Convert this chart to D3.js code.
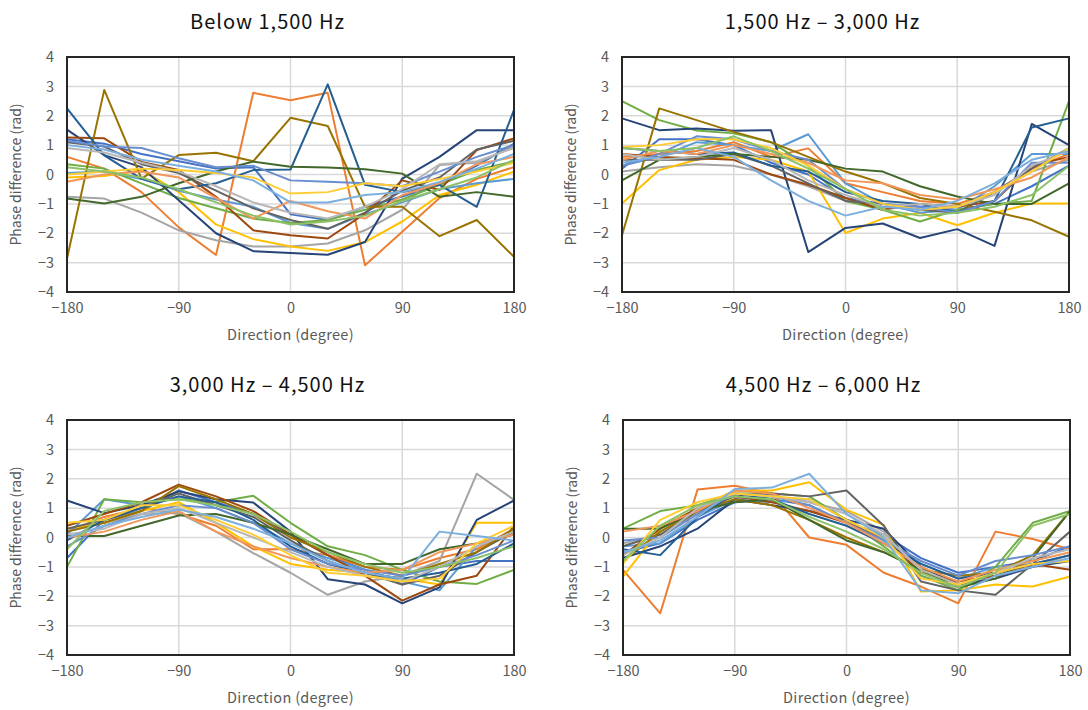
<!DOCTYPE html>
<html>
<head>
<meta charset="utf-8">
<script src="https://cdn.jsdelivr.net/npm/d3@7"></script>
<style>
  body { margin: 0; background: #fff; }
  text { font-family: "Noto Sans CJK JP", "Noto Sans", sans-serif; }
</style>
</head>
<body>
<script>
// directions on the x axis (degree)
var directions = [-180, -150, -120, -90, -60, -30, 0, 30, 60, 90, 120, 150, 180];
var xTicks = [-180, -90, 0, 90, 180];
var yTicks = [-4, -3, -2, -1, 0, 1, 2, 3, 4];
var titles = ["Below 1,500  Hz", "1,500  Hz \u2013 3,000  Hz", "3,000  Hz \u2013 4,500  Hz", "4,500  Hz \u2013 6,000  Hz"];

// excel default series colours
var colors = ["#4472C4", "#ED7D31", "#A5A5A5", "#FFC000", "#5B9BD5", "#70AD47",
              "#264478", "#9E480E", "#636363", "#997300", "#255E91", "#43682B",
              "#698ED0", "#F1975A", "#B7B7B7", "#FFCD33", "#7CAFDD", "#8CC168"];

// phase difference (rad) per series, below 1,500 Hz
var below1500 = [
  [1.2, 1.05, 0.7, 0.45, 0.2, 0.25, -1.35, -1.55, -1.1, -0.75, -0.35, 0.3, 1.05],
  [0.6, 0.2, -0.6, -1.8, -2.74, 2.78, 2.53, 2.78, -3.09, -1.95, -0.8, -0.15, 0.25],
  [-0.76, -0.82, -1.3, -1.9, -2.24, -2.45, -2.45, -2.35, -1.9, -1.2, 0.32, 0.4, 0.95],
  [-0.1, -0.05, 0.15, -0.6, -1.7, -2.2, -2.45, -2.6, -2.3, -1.6, -0.7, -0.35, 0.1],
  [0.05, 0.1, -0.15, -0.55, -0.85, -1.1, -1.65, -1.85, -1.35, -0.95, -0.5, -0.3, -0.15],
  [0.35, 0.2, -0.3, -0.8, -1.15, -1.5, -1.65, -1.55, -1.2, -0.85, -0.35, 0.15, 0.45],
  [1.53, 0.66, 0.25, -0.88, -2.0, -2.61, -2.67, -2.73, -2.3, -0.14, 0.6, 1.51, 1.51],
  [1.26, 1.23, 0.43, 0.15, -0.76, -1.9, -2.07, -2.18, -1.33, -0.2, -0.53, 0.83, 1.23],
  [1.1, 0.95, 0.35, 0.05, -0.55, -1.15, -1.55, -1.85, -1.3, -0.55, -0.1, 0.85, 1.15],
  [-2.86, 2.88, -0.14, 0.66, 0.74, 0.45, 1.93, 1.65, -1.1, -1.1, -2.1, -1.55, -2.8],
  [2.25, 0.65, -0.15, -0.5, -0.3, 0.15, 0.17, 3.07, -0.35, -0.6, -0.35, -1.1, 2.2],
  [-0.82, -0.99, -0.76, -0.3, 0.1, 0.44, 0.26, 0.24, 0.18, 0.03, -0.76, -0.6, -0.76],
  [1.15, 0.95, 0.9, 0.55, 0.25, 0.3, -0.2, -0.25, -0.3, -0.4, 0.1, 0.6, 1.0],
  [-0.25, 0.0, 0.1, -0.1, -0.8, -1.5, -0.9, -1.25, -1.5, -0.7, -0.3, 0.35, 0.6],
  [0.9, 0.75, 0.4, 0.1, -0.4, -0.95, -1.3, -1.5, -1.1, -0.5, 0.35, 0.45, 0.9],
  [0.0, 0.1, 0.2, 0.15, 0.05, -0.1, -0.65, -0.6, -0.3, -0.4, -0.15, 0.1, 0.4],
  [1.0, 0.85, 0.5, 0.3, 0.1, -0.2, -0.95, -0.95, -0.7, -0.6, -0.25, 0.2, 0.7],
  [0.25, 0.1, -0.1, -0.5, -0.95, -1.4, -1.7, -1.6, -1.4, -0.9, -0.5, -0.1, 0.5]
];

// 1,500 Hz - 3,000 Hz
var hz1500to3000 = [
  [0.2, 1.2, 1.2, 1.0, 0.4, 0.0, -0.8, -1.0, -1.1, -1.2, -1.0, -0.4, 0.3],
  [0.6, 0.7, 0.8, 1.1, 0.6, 0.89, -0.3, -0.6, -0.9, -1.0, -0.6, 0.2, 0.7],
  [0.1, 0.25, 0.35, 0.3, 0.0, -0.4, -0.9, -1.1, -1.2, -1.1, -0.6, 0.1, 0.5],
  [-0.99, 0.15, 0.5, 0.6, 0.5, 0.1, -1.99, -1.5, -1.3, -1.73, -1.3, -0.99, -0.99],
  [0.3, 0.6, 1.1, 1.0, 0.8, 1.37, -0.3, -1.0, -1.3, -1.2, -0.4, 0.7, 0.7],
  [2.5, 1.85, 1.5, 1.4, 1.1, 0.3, -0.9, -1.2, -1.6, -1.2, -1.0, -0.9, 2.5],
  [1.91, 1.51, 1.57, 1.49, 1.51, -2.64, -1.82, -1.67, -2.16, -1.86, -2.43, 1.72, 1.0],
  [0.7, 0.6, 0.55, 0.5, 0.0, -0.35, -0.8, -1.2, -1.0, -1.1, -0.9, 0.3, 0.6],
  [0.5, 0.5, 0.5, 0.7, 0.3, -0.3, -0.9, -1.0, -1.2, -1.3, -0.6, 0.2, 0.9],
  [-2.07, 2.25, 1.85, 1.45, 1.1, 0.6, 0.1, -0.3, -0.8, -1.0, -1.27, -1.56, -2.12],
  [0.9, 0.8, 0.7, 0.75, 0.3, 0.1, -0.6, -0.9, -1.0, -1.3, -0.9, 1.6, 1.91],
  [-0.2, 0.5, 0.6, 0.7, 0.6, 0.5, 0.2, 0.1, -0.4, -0.75, -1.0, -1.0, -0.3],
  [0.3, 0.7, 1.3, 1.2, 0.8, 0.5, -0.5, -1.0, -1.1, -1.3, -0.9, 0.4, 0.4],
  [0.5, 0.8, 0.7, 1.0, 0.7, 0.4, -0.2, -0.3, -0.7, -0.85, -0.5, -0.1, 0.6],
  [0.7, 0.5, 0.6, 0.9, 0.5, -0.2, -0.7, -1.1, -1.0, -1.1, -0.7, 0.3, 0.8],
  [0.94, 1.0, 1.2, 1.2, 0.9, 0.3, -0.5, -1.0, -1.2, -1.1, -0.6, 0.1, 0.9],
  [0.4, 0.6, 0.9, 0.6, -0.2, -0.9, -1.4, -1.1, -1.2, -0.9, -0.3, 0.5, 0.8],
  [0.9, 0.8, 0.9, 1.3, 0.8, 0.2, -0.5, -1.2, -1.4, -1.3, -1.1, -0.7, 0.3]
];

// 3,000 Hz - 4,500 Hz
var hz3000to4500 = [
  [-0.7, 0.6, 0.9, 1.6, 1.2, 0.8, 0.1, -0.6, -1.1, -1.6, -1.0, -0.8, -0.8],
  [0.2, 0.7, 1.0, 0.8, 0.4, -0.4, -0.4, -0.6, -1.0, -1.1, -0.7, -0.4, 0.3],
  [0.2, 0.5, 0.8, 0.83, 0.2, -0.53, -1.2, -1.95, -1.5, -1.3, -0.8, 2.17, 1.28],
  [0.3, 0.5, 0.9, 1.2, 0.5, -0.3, -0.9, -1.1, -1.2, -1.4, -1.6, 0.5, 0.5],
  [0.1, 1.3, 1.1, 1.4, 1.0, 0.5, -0.2, -0.7, -1.1, -1.5, -1.8, -0.3, 0.2],
  [-1.0, 1.3, 1.2, 1.3, 1.2, 1.42, 0.5, -0.3, -0.6, -1.1, -1.5, -1.58, -1.1],
  [1.26, 0.83, 1.1, 1.57, 1.3, 1.19, 0.2, -1.42, -1.6, -2.24, -1.7, 0.6, 1.26],
  [0.4, 0.8, 1.2, 1.8, 1.4, 0.9, 0.1, -0.6, -1.3, -2.15, -1.6, -1.3, 0.4],
  [0.3, 0.6, 1.0, 1.5, 1.1, 0.7, -0.1, -0.8, -1.2, -1.6, -1.3, -0.5, 0.2],
  [0.2, 0.5, 0.9, 1.75, 1.3, 0.8, 0.0, -0.5, -1.0, -1.3, -0.9, -0.5, 0.3],
  [-0.1, 0.6, 1.0, 1.4, 1.2, 0.6, -0.3, -0.9, -1.2, -1.4, -1.2, -0.9, -0.2],
  [0.05, 0.05, 0.4, 0.75, 0.8, 0.5, 0.1, -0.4, -0.9, -0.9, -0.4, -0.2, 0.1],
  [-0.3, 0.4, 0.8, 1.1, 1.0, 0.5, -0.4, -0.9, -1.1, -1.3, -1.0, -0.6, -0.1],
  [0.0, 0.2, 0.6, 0.9, 0.2, -0.3, -0.7, -1.0, -1.2, -1.1, -0.5, -0.2, 0.1],
  [0.1, 0.3, 0.8, 1.0, 0.5, 0.0, -0.5, -1.0, -1.3, -1.5, -1.0, -0.3, 0.2],
  [0.5, 0.6, 1.1, 1.1, 0.6, 0.1, -0.6, -1.2, -1.3, -1.5, -1.4, -0.2, 0.4],
  [0.0, 0.4, 0.7, 0.95, 0.7, 0.3, -0.2, -0.8, -1.2, -1.4, 0.2, 0.05, -0.1],
  [-0.4, 0.9, 1.2, 1.3, 1.1, 0.8, 0.2, -0.5, -0.9, -1.2, -1.0, -0.7, -0.3]
];

// 4,500 Hz - 6,000 Hz
var hz4500to6000 = [
  [-0.5, -0.2, 0.6, 1.2, 1.3, 1.1, 0.5, 0.1, -0.7, -1.2, -1.0, -0.8, -0.3],
  [-1.1, -2.58, 1.63, 1.76, 1.5, 0.0, -0.25, -1.2, -1.67, -2.24, 0.2, -0.05, -0.4],
  [-0.2, 0.1, 0.8, 1.3, 1.4, 1.2, 0.9, 0.2, -1.3, -1.7, -1.3, -1.0, -0.6],
  [-1.33, 0.3, 1.0, 1.6, 1.6, 1.88, 0.94, 0.43, -1.84, -1.8, -1.6, -1.67, -1.33],
  [-0.3, -0.2, 0.7, 1.3, 1.2, 1.3, 0.6, -0.1, -0.9, -1.4, -1.0, -0.9, -0.6],
  [0.3, 0.9, 1.1, 1.5, 1.5, 1.4, 0.6, -0.3, -1.3, -1.8, -1.0, 0.5, 0.9],
  [-0.7, -0.3, 0.3, 1.3, 1.1, 0.9, 0.6, 0.3, -1.0, -1.6, -1.4, -1.0, -0.8],
  [-0.6, 0.3, 1.0, 1.4, 1.2, 0.9, 0.5, 0.0, -1.2, -1.5, -1.3, -0.9, -1.1],
  [-0.3, 0.1, 0.9, 1.4, 1.5, 1.4, 1.6, 0.4, -1.5, -1.8, -1.95, -0.9, 0.2],
  [-0.8, 0.2, 0.9, 1.3, 1.1, 0.6, 0.0, -0.5, -1.1, -1.3, -1.2, -0.6, 0.9],
  [-0.4, -0.6, 0.7, 1.5, 1.3, 0.8, 0.4, -0.2, -0.9, -1.4, -1.2, -0.9, -0.6],
  [0.3, 0.3, 0.9, 1.2, 1.3, 0.6, -0.1, -0.5, -1.1, -1.7, -1.4, -0.7, 0.9],
  [-0.1, 0.0, 0.8, 1.5, 1.4, 1.1, 0.5, -0.1, -0.8, -1.3, -0.8, -0.6, -0.3],
  [0.2, 0.4, 0.9, 1.6, 1.5, 1.0, 0.5, -0.2, -1.0, -1.5, -1.1, -0.8, -0.5],
  [-0.6, 0.0, 1.0, 1.5, 1.4, 1.2, 0.8, 0.1, -1.1, -1.6, -1.2, -0.7, -0.4],
  [-0.9, 0.6, 1.2, 1.5, 1.4, 1.3, 0.6, 0.0, -1.4, -1.6, -1.2, -0.9, -0.8],
  [-0.5, -0.1, 0.7, 1.65, 1.7, 2.17, 0.8, 0.0, -1.8, -1.9, -1.3, -1.0, -0.7],
  [-0.8, 0.4, 1.1, 1.4, 1.3, 0.7, 0.2, -0.4, -1.2, -1.7, -1.2, 0.4, 0.8]
];

const W = 1088;
const H = 710;
const plotW = 447;
const plotH = 235;

var svg = d3.select("body").append("svg")
            .attr("width", W)
            .attr("height", H);

// panels: top-left corner of each plot area
var panels = [
  {x: 67, y: 57, data: below1500, title: titles[0]},
  {x: 622, y: 57, data: hz1500to3000, title: titles[1]},
  {x: 67, y: 420, data: hz3000to4500, title: titles[2]},
  {x: 623, y: 420, data: hz4500to6000, title: titles[3]}
];

panels.forEach(function(p) {
  drawPanel(p);
});

function fmt(v) {
  // excel style minus sign
  return v < 0 ? "\u2212" + Math.abs(v) : String(v);
}

function drawPanel(p) {
  var g = svg.append("g").attr("transform", "translate(" + p.x + "," + p.y + ")");

  var xScale = d3.scaleLinear().domain([-180, 180]).range([0, plotW]);
  var yScale = d3.scaleLinear().domain([-4, 4]).range([plotH, 0]);

  // gridlines
  g.append("g")
   .selectAll("line.h")
   .data(yTicks.slice(1, -1))
   .enter()
   .append("line")
   .attr("x1", 0).attr("x2", plotW)
   .attr("y1", function(d) { return yScale(d); })
   .attr("y2", function(d) { return yScale(d); })
   .attr("stroke", "#d9d9d9")
   .attr("stroke-width", 1.5);

  g.append("g")
   .selectAll("line.v")
   .data(xTicks.slice(1, -1))
   .enter()
   .append("line")
   .attr("y1", 0).attr("y2", plotH)
   .attr("x1", function(d) { return xScale(d); })
   .attr("x2", function(d) { return xScale(d); })
   .attr("stroke", "#d9d9d9")
   .attr("stroke-width", 1.5);

  // series lines
  var line = d3.line()
               .x(function(d, i) { return xScale(directions[i]); })
               .y(function(d) { return yScale(d); });

  g.append("g")
   .selectAll("path")
   .data(p.data)
   .enter()
   .append("path")
   .attr("d", line)
   .attr("fill", "none")
   .attr("stroke", function(d, i) { return colors[i % colors.length]; })
   .attr("stroke-width", 2)
   .attr("stroke-linejoin", "round");

  // frame
  g.append("rect")
   .attr("width", plotW)
   .attr("height", plotH)
   .attr("fill", "none")
   .attr("stroke", "#262626")
   .attr("stroke-width", 2);

  // axes with labels only
  var xAxis = g.append("g")
               .attr("transform", "translate(0," + plotH + ")")
               .call(d3.axisBottom(xScale).tickValues(xTicks).tickSize(0).tickPadding(11).tickFormat(fmt));
  var yAxis = g.append("g")
               .call(d3.axisLeft(yScale).tickValues(yTicks).tickSize(0).tickPadding(13).tickFormat(fmt));
  [xAxis, yAxis].forEach(function(a) {
    a.select(".domain").remove();
    a.selectAll("text")
     .style("font-family", "'Noto Sans CJK JP', sans-serif")
     .style("font-size", "14.5px")
     .attr("fill", "#595959");
  });

  // x label
  g.append("text")
   .attr("x", plotW / 2)
   .attr("y", plotH + 48)
   .attr("text-anchor", "middle")
   .style("font-size", "14.5px")
   .style("letter-spacing", "0.3px")
   .attr("fill", "#595959")
   .text("Direction (degree)");

  // y label
  g.append("text")
   .attr("transform", "rotate(-90)")
   .attr("x", -plotH / 2)
   .attr("y", -46)
   .attr("text-anchor", "middle")
   .style("font-size", "14px")
   .attr("fill", "#595959")
   .text("Phase difference (rad)");

  // title
  g.append("text")
   .attr("x", plotW / 2 - 23)
   .attr("y", -28)
   .attr("text-anchor", "middle")
   .style("font-size", "20px")
   .style("font-weight", "400")
   .style("letter-spacing", "1px")
   .attr("fill", "#111")
   .text(p.title);
}
</script>
</body>
</html>
